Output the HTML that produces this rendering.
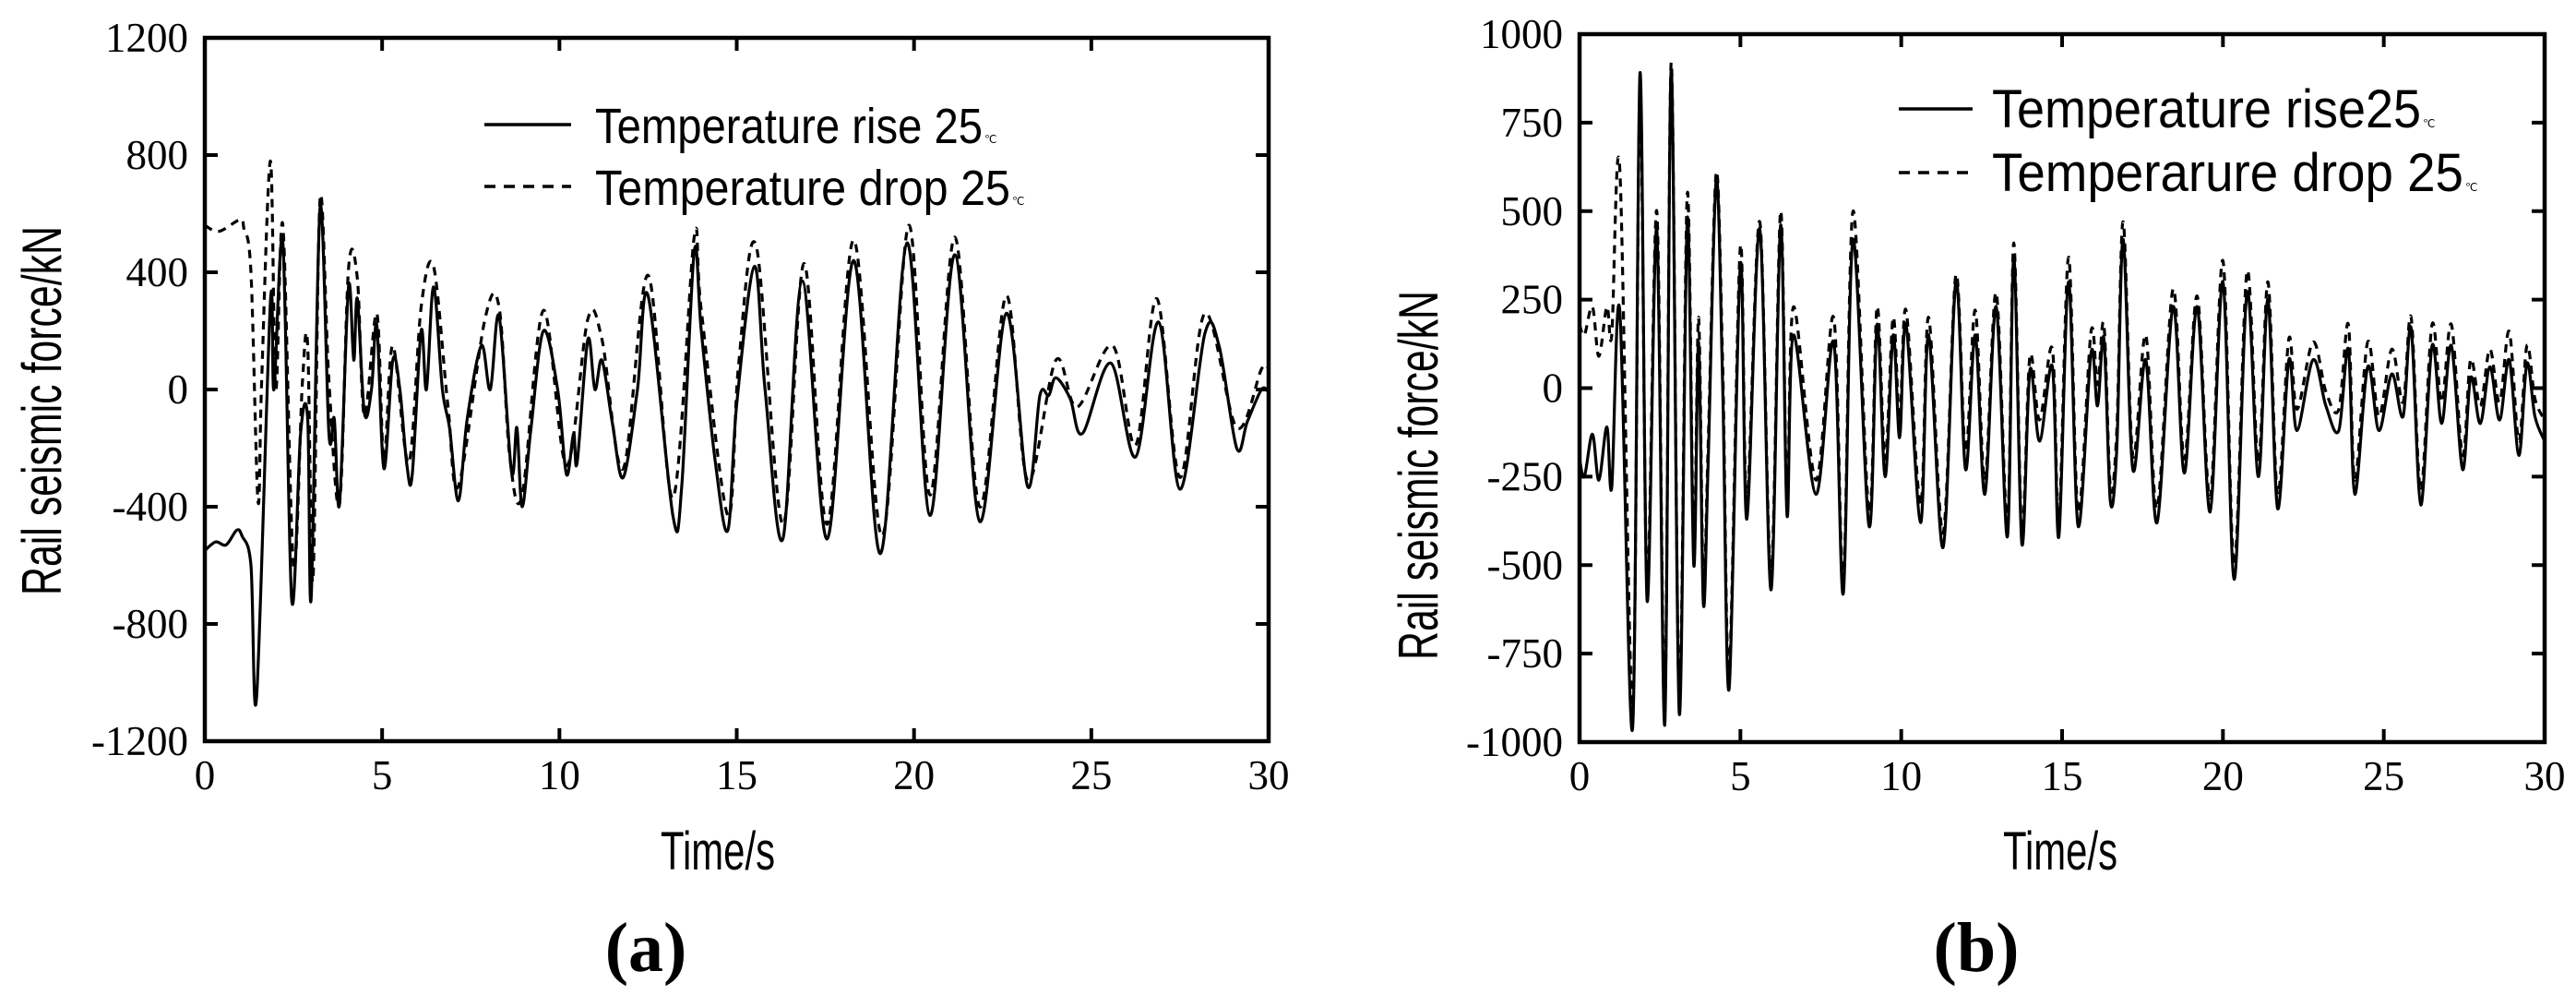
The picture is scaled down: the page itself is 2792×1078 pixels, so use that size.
<!DOCTYPE html>
<html><head><meta charset="utf-8"><style>
html,body{margin:0;padding:0;background:#fff;}
svg{display:block;}
.tick{font-family:"Liberation Serif",serif;font-size:45px;fill:#000;}
.sans{font-family:"Liberation Sans",sans-serif;fill:#000;}
.cap{font-family:"Liberation Serif",serif;font-weight:bold;font-size:76px;fill:#000;}
</style></head><body>
<svg id="root" width="2792" height="1078" viewBox="0 0 2792 1078" xmlns="http://www.w3.org/2000/svg">
<g id="chartA"></g>
<g id="chartB"></g>
</svg>
<script>
// ---- Chart (a) data ----
const riseATimes = [0,0.3,0.6,0.9,1.05,1.3,1.46,1.85,1.95,2.2,2.45,2.7,2.9,3.0,3.25,3.5,3.65,3.8,4.05,4.2,4.3,4.5,4.7,4.85,5.05,5.3,5.5,5.7,5.85,6.1,6.25,6.45,6.7,6.9,7.15,7.4,7.8,8.05,8.3,8.65,8.8,8.95,9.2,9.55,9.95,10.2,10.4,10.5,10.8,11.0,11.2,11.5,11.8,12.2,12.5,13.2,13.45,13.8,14.0,14.4,14.75,15.0,15.5,15.8,16.3,16.85,17.55,18.3,19.05,19.8,20.45,21.15,21.85,22.6,23.2,23.55,23.8,24.0,24.4,24.75,25.55,26.25,26.9,27.5,28.2,28.6,29.1,29.4,29.8,30];
const riseAValues = [-550,-520,-530,-480,-500,-600,-1050,300,0,500,-720,-150,-100,-710,620,-150,-100,-390,350,100,310,-80,0,220,-270,100,0,-260,-290,200,0,350,0,-130,-380,-100,150,0,250,-280,-130,-400,-130,200,0,-290,-150,-250,170,0,100,-120,-300,0,320,-430,-330,470,200,-250,-480,-50,420,0,-510,370,-510,440,-560,500,-430,460,-450,260,-330,-20,-20,40,-30,-150,90,-230,230,-340,190,150,-200,-110,0,-10];
const dropATimes = [0,0.4,1.0,1.1,1.3,1.5,1.6,1.85,2.0,2.2,2.5,2.75,2.9,3.05,3.25,3.5,3.8,4.05,4.3,4.5,4.85,5.05,5.3,5.75,6.1,6.45,6.85,7.15,7.9,8.3,8.6,8.95,9.55,10.2,10.8,11.2,11.8,12.5,13.2,13.8,14.0,14.75,15.05,15.55,16.3,16.9,17.55,18.3,19.1,19.85,20.45,21.15,21.85,22.6,23.2,24.0,24.6,25.6,26.25,26.85,27.5,28.2,29.1,29.8,30];
const dropAValues = [560,540,580,550,400,-380,20,780,0,560,-600,20,150,-650,650,30,-390,410,380,-90,260,-240,150,-250,280,420,-50,-330,240,280,-230,-360,270,-260,240,170,-270,390,-370,520,270,-430,80,490,-460,430,-460,510,-500,560,-360,520,-400,320,-310,100,-60,150,-190,310,-300,260,-130,70,70];
const yTicksA = [-1200,-800,-400,0,400,800,1200];
const xTicks = [0,5,10,15,20,25,30];
// ---- Chart (b) data ----
const timesB = [0,0.15,0.4,0.6,0.85,1.0,1.25,1.65,1.88,2.1,2.4,2.65,2.85,3.1,3.35,3.55,3.7,3.85,4.0,4.25,4.45,4.65,5.0,5.2,5.6,5.95,6.25,6.45,6.65,7.35,7.9,8.2,8.5,9.0,9.25,9.5,9.75,9.95,10.15,10.6,10.85,11.3,11.7,12.0,12.3,12.6,12.95,13.3,13.5,13.75,14.0,14.3,14.7,14.9,15.2,15.5,15.9,16.1,16.3,16.5,16.7,16.9,17.2,17.6,17.95,18.45,18.8,19.2,19.6,20.0,20.35,20.75,21.1,21.4,21.7,22.05,22.3,22.8,23.2,23.6,23.9,24.1,24.5,24.85,25.25,25.6,25.85,26.15,26.5,26.8,27.1,27.45,27.7,28.0,28.3,28.6,28.9,29.2,29.45,29.7,30];
const riseBValues = [-200,-250,-130,-260,-110,-280,220,-960,890,-600,450,-950,900,-920,480,-500,130,-610,-200,590,0,-850,350,-370,450,-570,460,-360,150,-300,130,-580,420,-390,180,-250,150,-140,180,-380,150,-450,300,-230,150,-300,230,-420,370,-440,50,-150,60,-420,300,-390,100,-50,140,-320,-170,420,-230,80,-380,230,-240,230,-350,300,-540,270,-250,250,-340,80,-120,80,-50,-120,110,-300,60,-120,40,-80,170,-330,120,-100,120,-230,30,-100,60,-90,80,-190,70,-80,-150];
const dropBValues = [180,150,230,90,230,150,620,-900,830,-560,500,-900,920,-880,550,-450,200,-560,-150,610,60,-800,400,-320,470,-530,500,-330,230,-260,200,-540,500,-350,230,-200,200,-90,220,-330,200,-410,320,-180,220,-260,270,-380,410,-400,90,-90,110,-380,370,-350,160,10,180,-280,-120,470,-190,150,-340,280,-200,260,-310,360,-500,330,-210,300,-300,140,-60,130,-10,-60,180,-260,130,-80,110,-40,200,-290,180,-40,180,-190,80,-50,110,-40,160,-150,120,-30,-90];
const yTicksB = [-1000,-750,-500,-250,0,250,500,750,1000];

const NS = "http://www.w3.org/2000/svg";
function mk(parent, tag, attrs, text) {
  const el = document.createElementNS(NS, tag);
  for (const k in attrs) el.setAttribute(k, attrs[k]);
  if (text !== undefined) el.textContent = text;
  parent.appendChild(el);
  return el;
}
function smoothPath(xs, ys, sx, sy) {
  const P = xs.map((x, i) => [sx(x), sy(ys[i])]);
  let d = "M" + P[0][0].toFixed(1) + "," + P[0][1].toFixed(1);
  for (let i = 0; i < P.length - 1; i++) {
    const p0 = P[Math.max(0, i - 1)], p1 = P[i], p2 = P[i + 1], p3 = P[Math.min(P.length - 1, i + 2)];
    const c1 = [p1[0] + (p2[0] - p0[0]) / 6, p1[1] + (p2[1] - p0[1]) / 6];
    const c2 = [p2[0] - (p3[0] - p1[0]) / 6, p2[1] - (p3[1] - p1[1]) / 6];
    d += "C" + c1[0].toFixed(1) + "," + c1[1].toFixed(1) + " " + c2[0].toFixed(1) + "," + c2[1].toFixed(1) + " " + p2[0].toFixed(1) + "," + p2[1].toFixed(1);
  }
  return d;
}
function drawChart(g, cfg) {
  const {L, R, T, B, ymin, ymax, yTicks, id} = cfg;
  const sx = t => L + (t / 30) * (R - L);
  const sy = v => B - (v - ymin) / (ymax - ymin) * (B - T);
  const clip = mk(g, "clipPath", {id: "clip" + id});
  mk(clip, "rect", {x: L, y: T, width: R - L, height: B - T});
  const s1 = mk(g, "path", {d: smoothPath(cfg.riseT, cfg.riseV, sx, sy), fill: "none", stroke: "#000", "stroke-width": 3.2, "clip-path": "url(#clip" + id + ")"});
  
  
  const s2 = mk(g, "path", {d: smoothPath(cfg.dropT, cfg.dropV, sx, sy), fill: "none", stroke: "#000", "stroke-width": 3.2, "stroke-dasharray": "9 7", "clip-path": "url(#clip" + id + ")"});
  
  
  const fr = mk(g, "rect", {x: L, y: T, width: R - L, height: B - T, fill: "none", stroke: "#000", "stroke-width": 4.5});
  
  
  xTicks.forEach(t => {
    const x = sx(t);
    mk(g, "line", {x1: x, x2: x, y1: B, y2: B - 14, stroke: "#000", "stroke-width": 4});
    mk(g, "line", {x1: x, x2: x, y1: T, y2: T + 14, stroke: "#000", "stroke-width": 4});
    const lb = mk(g, "text", {x: x, y: B + 52, "text-anchor": "middle", class: "tick"}, String(t));
    
    
  });
  yTicks.forEach(v => {
    const y = sy(v);
    mk(g, "line", {x1: L, x2: L + 14, y1: y, y2: y, stroke: "#000", "stroke-width": 4});
    mk(g, "line", {x1: R, x2: R - 14, y1: y, y2: y, stroke: "#000", "stroke-width": 4});
    const lb = mk(g, "text", {x: L - 18, y: y + 15, "text-anchor": "end", class: "tick"}, String(v));
    
    
  });
  const yt = mk(g, "text", {x: 0, y: 0, transform: "translate(" + cfg.ytX + "," + cfg.ytY + ") rotate(-90)", "text-anchor": "middle", class: "sans", "font-size": 60, textLength: 400, lengthAdjust: "spacingAndGlyphs"}, "Rail seismic force/kN");
  
  
  const xt = mk(g, "text", {x: cfg.xtX, y: 942, "text-anchor": "middle", class: "sans", "font-size": 58, textLength: 124, lengthAdjust: "spacingAndGlyphs"}, "Time/s");
  
  
  const lg = mk(g, "g", {});
  
  
  mk(lg, "line", {x1: cfg.lgX1, x2: cfg.lgX2, y1: cfg.lgY1, y2: cfg.lgY1, stroke: "#000", "stroke-width": 3.5});
  mk(lg, "line", {x1: cfg.lgX1, x2: cfg.lgX2, y1: cfg.lgY2, y2: cfg.lgY2, stroke: "#000", "stroke-width": 3.5, "stroke-dasharray": "12 9"});
  const t1 = mk(lg, "text", {x: cfg.lgTX, y: cfg.lgY1 + 20, class: "sans", "font-size": cfg.lgFS, textLength: cfg.lgW1, lengthAdjust: "spacingAndGlyphs"}, cfg.lgText1);
  
  
  mk(lg, "text", {x: cfg.lgTX + cfg.lgW1 + 2, y: cfg.lgY1 + 20, class: "sans", "font-size": 12}, "℃");
  const t2 = mk(lg, "text", {x: cfg.lgTX, y: cfg.lgY2 + 20, class: "sans", "font-size": cfg.lgFS, textLength: cfg.lgW2, lengthAdjust: "spacingAndGlyphs"}, cfg.lgText2);
  
  
  mk(lg, "text", {x: cfg.lgTX + cfg.lgW2 + 2, y: cfg.lgY2 + 20, class: "sans", "font-size": 12}, "℃");
  const cap = mk(g, "text", {x: cfg.capX, y: 1052, "text-anchor": "middle", class: "cap"}, cfg.cap);
  
  
}
drawChart(document.getElementById("chartA"), {
  id: "A", L: 222, R: 1375, T: 41, B: 803, ymin: -1200, ymax: 1200, yTicks: yTicksA,
  riseT: riseATimes, riseV: riseAValues, dropT: dropATimes, dropV: dropAValues,
  ytX: 66, ytY: 445, xtX: 778,
  lgX1: 525, lgX2: 619, lgY1: 135, lgY2: 202, lgTX: 645, lgFS: 54, lgW1: 420, lgW2: 450,
  lgText1: "Temperature rise 25", lgText2: "Temperature drop 25",
  capX: 700, cap: "(a)"
});
drawChart(document.getElementById("chartB"), {
  id: "B", L: 1712, R: 2758, T: 37, B: 804, ymin: -1000, ymax: 1000, yTicks: yTicksB,
  riseT: timesB, riseV: riseBValues, dropT: timesB, dropV: dropBValues,
  ytX: 1558, ytY: 515, xtX: 2233,
  lgX1: 2058, lgX2: 2138, lgY1: 118, lgY2: 187, lgTX: 2159, lgFS: 58, lgW1: 465, lgW2: 511,
  lgText1: "Temperature rise25", lgText2: "Temperarure drop 25",
  capX: 2142, cap: "(b)"
});
</script>
</body></html>
